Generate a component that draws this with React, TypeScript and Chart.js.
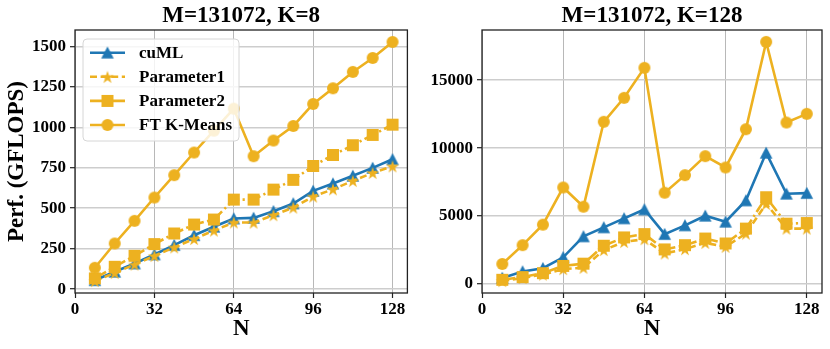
import React, { useEffect, useRef } from "react";
import { Chart, registerables } from "chart.js";
Chart.register(...registerables);

// ---------------- data ----------------
const N = [8, 16, 24, 32, 40, 48, 56, 64, 72, 80, 88, 96, 104, 112, 120, 128];
const X_TICKS = [0, 32, 64, 96, 128];

// M=131072, K=8
const cuML_K8 = [55, 107, 158, 214, 272, 333, 385, 436, 440, 481, 529, 607, 652, 700, 749, 802];
const param1_K8 = [50, 100, 152, 205, 258, 310, 362, 412, 411, 457, 504, 572, 617, 669, 718, 759];
const param2_K8 = [66, 138, 206, 278, 344, 399, 430, 553, 553, 615, 675, 761, 829, 889, 953, 1016];
const ft_K8 = [132, 282, 422, 566, 704, 844, 979, 1115, 821, 918, 1008, 1144, 1241, 1342, 1428, 1527];
const Y_TICKS_K8 = [0, 250, 500, 750, 1000, 1250, 1500];

// M=131072, K=128
const cuML_K128 = [450, 920, 1165, 1966, 3505, 4166, 4828, 5488, 3675, 4312, 5023, 4582, 6150, 9653, 6640, 6689];
const param1_K128 = [220, 450, 700, 1100, 1200, 2500, 3100, 3300, 2254, 2570, 3032, 2740, 3712, 5900, 4077, 4077];
const param2_K128 = [313, 510, 800, 1333, 1500, 2818, 3430, 3675, 2546, 2862, 3347, 2983, 4077, 6385, 4441, 4490];
const ft_K128 = [1478, 2862, 4370, 7105, 5686, 11936, 13700, 15907, 6716, 8012, 9408, 8576, 11392, 17812, 11882, 12520];
const Y_TICKS_K128 = [0, 5000, 10000, 15000];

const SERIES_NAMES = ["cuML", "Parameter1", "Parameter2", "FT K-Means"];

// ---------------- styles ----------------
const BLUE = "#1f77b4";
const ORANGE = "#EDB120";
const FAMILY = "'Liberation Serif', 'Times New Roman', serif";
const LW = 2.6;
const DASHED = [7, 3.6];
const DASHDOT = [13, 3.4, 2.2, 3.4];

function makeMarker(kind: string, color: string): HTMLCanvasElement {
  const s = 16;
  const c = document.createElement("canvas");
  c.width = s;
  c.height = s;
  const ctx = c.getContext("2d")!;
  const cx = s / 2;
  const cy = s / 2;
  ctx.fillStyle = color;
  ctx.beginPath();
  if (kind === "circle") {
    ctx.arc(cx, cy, 6, 0, Math.PI * 2);
  } else if (kind === "square") {
    ctx.rect(cx - 6, cy - 6, 12, 12);
  } else if (kind === "triangle") {
    ctx.moveTo(cx, cy - 6.3);
    ctx.lineTo(cx - 6.3, cy + 5.7);
    ctx.lineTo(cx + 6.3, cy + 5.7);
    ctx.closePath();
  } else if (kind === "star") {
    const ro = 6.8;
    const ri = ro * 0.382;
    for (let i = 0; i < 10; i++) {
      const r = i % 2 === 0 ? ro : ri;
      const a = -Math.PI / 2 + (i * Math.PI) / 5;
      const x = cx + r * Math.cos(a);
      const y = cy + 0.7 + r * Math.sin(a);
      if (i === 0) ctx.moveTo(x, y);
      else ctx.lineTo(x, y);
    }
    ctx.closePath();
  }
  ctx.fill();
  return c;
}

function boxPlugin() {
  return {
    id: "box",
    afterDraw(chart: any) {
      const { ctx, chartArea: a } = chart;
      ctx.save();
      ctx.strokeStyle = "#222";
      ctx.lineWidth = 1.3;
      ctx.setLineDash([]);
      ctx.strokeRect(a.left, a.top, a.right - a.left, a.bottom - a.top);
      ctx.restore();
    },
  };
}

function legendPlugin(markers: HTMLCanvasElement[]) {
  const colors = [BLUE, ORANGE, ORANGE, ORANGE];
  const dashes = [[], DASHED, DASHDOT, []];
  return {
    id: "innerLegend",
    afterDraw(chart: any) {
      const ctx = chart.ctx as CanvasRenderingContext2D;
      ctx.save();
      const x0 = 83, y0 = 39, x1 = 239, y1 = 141, r = 4;
      ctx.beginPath();
      ctx.moveTo(x0 + r, y0);
      ctx.lineTo(x1 - r, y0);
      ctx.quadraticCurveTo(x1, y0, x1, y0 + r);
      ctx.lineTo(x1, y1 - r);
      ctx.quadraticCurveTo(x1, y1, x1 - r, y1);
      ctx.lineTo(x0 + r, y1);
      ctx.quadraticCurveTo(x0, y1, x0, y1 - r);
      ctx.lineTo(x0, y0 + r);
      ctx.quadraticCurveTo(x0, y0, x0 + r, y0);
      ctx.closePath();
      ctx.fillStyle = "rgba(255,255,255,0.82)";
      ctx.fill();
      ctx.strokeStyle = "#d6d6d6";
      ctx.lineWidth = 1;
      ctx.stroke();
      for (let i = 0; i < 4; i++) {
        const y = 52.7 + i * 24.1;
        ctx.beginPath();
        ctx.setLineDash(dashes[i]);
        ctx.lineDashOffset = 0;
        ctx.strokeStyle = colors[i];
        ctx.lineWidth = LW;
        ctx.moveTo(90, y);
        ctx.lineTo(125, y);
        ctx.stroke();
        ctx.setLineDash([]);
        const m = markers[i];
        ctx.drawImage(m, 107.5 - m.width / 2, y - m.height / 2);
        ctx.fillStyle = "#000";
        ctx.font = `bold 17px ${FAMILY}`;
        ctx.textBaseline = "middle";
        ctx.textAlign = "left";
        ctx.fillText(SERIES_NAMES[i], 139, y + 0.5);
      }
      ctx.restore();
    },
  };
}

type PanelProps = {
  title: string;
  series: number[][];
  yMin: number;
  yMax: number;
  yTicks: number[];
  yAxisWidth: number;
  padRight: number;
  yTitle?: string;
  withLegend: boolean;
};

function Panel(p: PanelProps) {
  const ref = useRef<HTMLCanvasElement | null>(null);
  useEffect(() => {
    const markers = [
      makeMarker("triangle", BLUE),
      makeMarker("star", ORANGE),
      makeMarker("square", ORANGE),
      makeMarker("circle", ORANGE),
    ];
    const colors = [BLUE, ORANGE, ORANGE, ORANGE];
    const dashes = [[], DASHED, DASHDOT, []];
    const datasets = p.series.map((vals, i) => ({
      label: SERIES_NAMES[i],
      data: N.map((x, j) => ({ x, y: vals[j] })),
      borderColor: colors[i],
      backgroundColor: colors[i],
      borderWidth: LW,
      borderDash: dashes[i],
      pointStyle: markers[i],
      pointRadius: 5,
      pointHoverRadius: 5,
      tension: 0,
      fill: false,
      order: 4 - i,
    }));
    const tickFont = { family: FAMILY, size: 17, weight: "bold" as const };
    const titleFont = { family: FAMILY, size: 23, weight: "bold" as const };
    const plugins: any[] = [boxPlugin()];
    if (p.withLegend) plugins.push(legendPlugin(markers));
    const chart = new Chart(ref.current!, {
      type: "line",
      data: { datasets },
      options: {
        animation: false,
        responsive: false,
        devicePixelRatio: 1,
        events: [],
        layout: { padding: { left: 0, right: p.padRight, top: 0, bottom: 0 } },
        plugins: {
          legend: { display: false },
          tooltip: { enabled: false },
          title: {
            display: true,
            text: p.title,
            fullSize: false,
            color: "#000",
            font: titleFont,
            padding: { top: 2, bottom: 0.4 },
          },
        },
        scales: {
          x: {
            type: "linear",
            min: 0,
            max: 134,
            afterBuildTicks: (s: any) => {
              s.ticks = X_TICKS.map((v) => ({ value: v }));
            },
            afterFit: (s: any) => {
              s.height = 56;
            },
            ticks: {
              color: "#000",
              font: tickFont,
              padding: 1,
              maxRotation: 0,
              autoSkip: false,
              callback: (v: any) => String(v),
            },
            grid: {
              color: "#b8b8b8",
              lineWidth: 1,
              drawTicks: true,
              tickLength: 5,
              tickColor: "#222",
              tickWidth: 1.2,
            },
            border: { display: false },
            title: {
              display: true,
              text: "N",
              color: "#000",
              font: titleFont,
              padding: { top: 0, bottom: 6 },
            },
          },
          y: {
            type: "linear",
            min: p.yMin,
            max: p.yMax,
            afterBuildTicks: (s: any) => {
              s.ticks = p.yTicks.map((v) => ({ value: v }));
            },
            afterFit: (s: any) => {
              s.width = p.yAxisWidth;
            },
            ticks: {
              color: "#000",
              font: tickFont,
              padding: 4,
              autoSkip: false,
              callback: (v: any) => String(v),
            },
            grid: {
              color: "#cdcdcd",
              lineWidth: 1.4,
              drawTicks: true,
              tickLength: 5,
              tickColor: "#222",
              tickWidth: 1.2,
            },
            border: { display: false },
            title: {
              display: !!p.yTitle,
              text: p.yTitle || "",
              color: "#000",
              font: titleFont,
              padding: { top: 3.2, bottom: 0 },
            },
          },
        },
      },
      plugins,
    } as any);
    return () => chart.destroy();
  }, []);
  return <canvas ref={ref} width={415} height={349} style={{ display: "block", width: 415, height: 349 }} />;
}

export default function App() {
  return (
    <div style={{ position: "absolute", left: 0, top: 0, width: 830, height: 349, background: "#fff", display: "flex" }}>
      <Panel
        title="M=131072, K=8"
        series={[cuML_K8, param1_K8, param2_K8, ft_K8]}
        yMin={-24}
        yMax={1601}
        yTicks={Y_TICKS_K8}
        yAxisWidth={75}
        padRight={1}
        yTitle="Perf. (GFLOPS)"
        withLegend={true}
      />
      <Panel
        title="M=131072, K=128"
        series={[cuML_K128, param1_K128, param2_K128, ft_K128]}
        yMin={-660}
        yMax={18690}
        yTicks={Y_TICKS_K128}
        yAxisWidth={67}
        padRight={8}
        withLegend={false}
      />
    </div>
  );
}
